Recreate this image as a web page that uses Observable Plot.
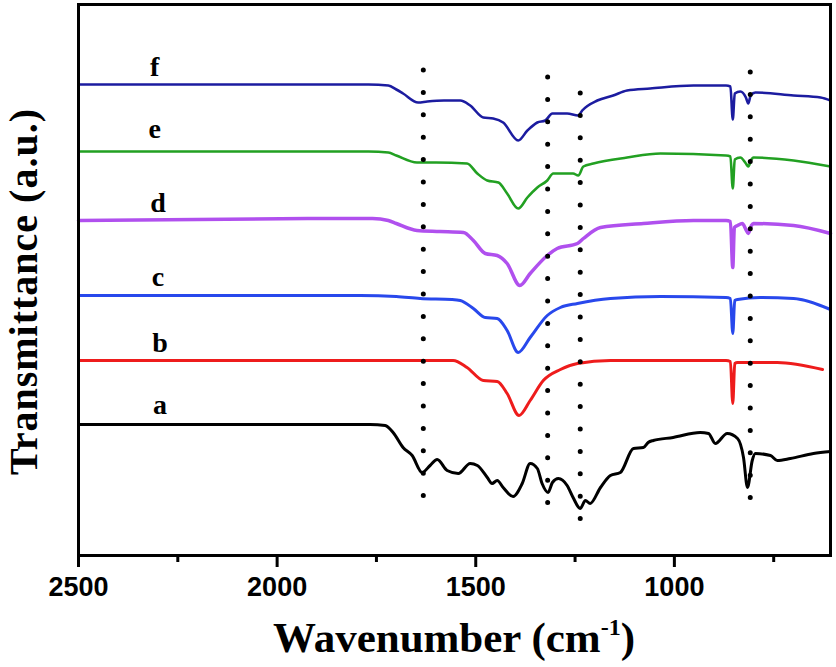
<!DOCTYPE html>
<html><head><meta charset="utf-8">
<script src="https://cdn.jsdelivr.net/npm/d3@7"></script>
<script src="https://cdn.jsdelivr.net/npm/@observablehq/plot@0.6"></script>
<style>body{margin:0;background:#fff}</style>
</head><body><div id="chart"></div>
<script>
// Wavenumber (cm^-1), transmittance (a.u., offset stacked)
const seriesA = [[2500,131],[1766,131],[1728,130],[1708,123],[1683,108],[1660,100],[1635,83],[1615,90],[1597,96],[1572,85],[1544,82],[1514,92],[1496,90],[1471,78],[1459,72],[1446,75],[1431,68],[1406,59],[1383,72],[1363,92],[1345,87],[1333,72],[1318,63],[1307,73],[1292,77],[1270,70],[1255,58],[1237,47],[1224,55],[1212,52],[1186,68],[1161,80],[1136,83],[1103,107],[1078,108],[1066,113],[1053,115],[1003,118],[935,123],[914,122],[897,112],[867,122],[841,117],[826,98],[816,68],[804,95],[796,102],[758,100],[741,95],[708,97],[650,102],[607,104]];
const seriesB = [[2500,195],[1557,195],[1522,188],[1481,175],[1446,174],[1421,162],[1391,140],[1363,155],[1330,175],[1287,186],[1244,192],[1161,195],[870,195],[859,194],[853,152],[848,192],[841,193],[741,193],[627,186]];
const seriesC = [[2500,260],[1791,260],[1700,259],[1640,257],[1560,256],[1539,255],[1506,247],[1476,238],[1446,237],[1421,225],[1393,203],[1363,218],[1320,240],[1287,248],[1244,252],[1161,257],[1035,259],[870,258],[859,257],[853,222],[848,255],[841,256],[784,258],[700,257],[607,246]];
const seriesD = [[2500,335],[1900,337],[1760,337],[1720,335],[1700,332],[1648,325],[1590,324],[1531,323],[1506,315],[1476,302],[1446,300],[1421,292],[1389,270],[1363,282],[1320,300],[1295,307],[1244,312],[1229,317],[1186,328],[1078,332],[952,335],[870,335],[859,334],[853,288],[849,328],[841,330],[829,332],[820,326],[814,322],[806,330],[801,332],[700,330],[607,322]];
const seriesE = [[2500,404],[1770,404],[1720,403],[1700,400],[1648,393],[1600,393],[1522,392],[1496,382],[1471,375],[1443,373],[1421,362],[1393,347],[1370,358],[1345,368],[1320,375],[1305,382],[1255,382],[1242,380],[1229,389],[1204,392],[1119,398],[1035,402],[870,400],[859,399],[853,367],[848,396],[834,398],[820,392],[814,389],[806,396],[801,398],[700,395],[607,389]];
const seriesF = [[2500,471],[1770,471],[1720,470],[1700,466],[1683,462],[1645,453],[1622,454],[1580,455],[1539,455],[1514,450],[1481,438],[1456,437],[1431,433],[1393,415],[1370,425],[1345,433],[1325,435],[1307,442],[1270,442],[1242,440],[1232,445],[1194,455],[1154,460],[1119,465],[1061,467],[952,470],[870,470],[859,469],[853,436],[848,462],[834,464],[820,458],[814,452],[808,460],[796,463],[700,460],[632,458],[607,455]];

const seriesList = [seriesA, seriesB, seriesC, seriesD, seriesE, seriesF];
const seriesColors = ["#000000", "#ee1c1c", "#2848ec", "#b050ee", "#22a022", "#1c1ca0"];
const seriesWidths = [3, 3, 3, 3.5, 2.6, 2.6];

const labelNames = ["a", "b", "c", "d", "e", "f"];
const labelW = [2295, 2295, 2300, 2300, 2308, 2308];
const labelT = [142, 204, 270, 344, 418, 480];

const dottedW = [1632, 1319, 1237, 809];
const dottedTop = [485, 478, 462, 483];
const dottedBottom = [50, 45, 30, 55];

const majorTicks = [2500, 2000, 1500, 1000];
const minorTicks = [2250, 1750, 1250, 750];

const W = 836, H = 667, mL = 78, mR = 6, mT = 4, mB = 112;

const chart = Plot.plot({
  width: W, height: H,
  marginLeft: mL, marginRight: mR, marginTop: mT, marginBottom: mB,
  style: {fontFamily: "'Liberation Sans', Arial, sans-serif", background: "#fff", overflow: "visible"},
  x: {domain: [2500, 607]},
  y: {domain: [0, 551], axis: null},
  marks: [
    ...seriesList.map((s, i) => Plot.line(s, {x: d => d[0], y: d => d[1], curve: "monotone-x", stroke: seriesColors[i], strokeWidth: seriesWidths[i], strokeLinejoin: "round"})),
    Plot.ruleX(dottedW, {x: d => d, y1: (d, i) => dottedTop[i], y2: (d, i) => dottedBottom[i], stroke: "#000", strokeWidth: 5, strokeDasharray: "0 22.4", strokeLinecap: "round"}),
    Plot.text(labelNames, {x: (d, i) => labelW[i], y: (d, i) => labelT[i], text: d => d, lineAnchor: "bottom", fontSize: 28, fontWeight: "bold", fontFamily: "'Liberation Serif', 'Times New Roman', serif", fill: "#000"}),
    Plot.frame({stroke: "#000", strokeWidth: 3}),
    Plot.axisX({ticks: majorTicks, tickSize: 12, tickPadding: 9, strokeWidth: 3, fontSize: 27, fontWeight: "bold", label: null, tickFormat: d => String(d)}),
    Plot.axisX({ticks: minorTicks, tickSize: 7, strokeWidth: 3, tickFormat: () => "", label: null})
  ]
});
document.getElementById("chart").appendChild(chart);

const svg = d3.select(chart);
const cx = mL + (W - mL - mR) / 2;
const xt = svg.append("text")
  .attr("x", cx).attr("y", 652)
  .attr("text-anchor", "middle")
  .attr("font-family", "'Liberation Serif', 'Times New Roman', serif")
  .attr("font-weight", "bold").attr("font-size", 43).attr("fill", "#000");
xt.append("tspan").text("Wavenumber (cm");
xt.append("tspan").attr("dy", -17).attr("font-size", 24).text("-1");
xt.append("tspan").attr("dy", 17).text(")");

const cy = mT + (H - mT - mB) / 2 + 12;
svg.append("text")
  .attr("transform", `translate(37,${cy}) rotate(-90)`)
  .attr("text-anchor", "middle")
  .attr("font-family", "'Liberation Serif', 'Times New Roman', serif")
  .attr("font-weight", "bold").attr("font-size", 40).attr("letter-spacing", 1).attr("fill", "#000")
  .text("Transmittance (a.u.)");
</script>
</body></html>
